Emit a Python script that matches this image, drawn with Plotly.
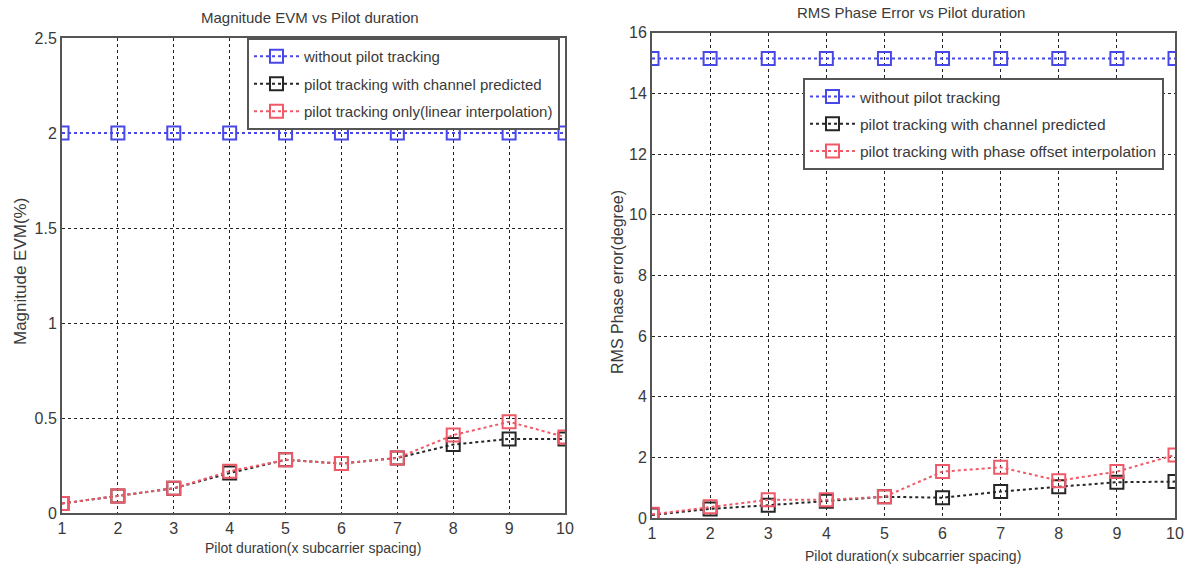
import plotly.graph_objects as go

x_vals = [1, 2, 3, 4, 5, 6, 7, 8, 9, 10]

# Left chart: Magnitude EVM (%)
evm_without = [2.0, 2.0, 2.0, 2.0, 2.0, 2.0, 2.0, 2.0, 2.0, 2.0]
evm_channel_pred = [0.05, 0.09, 0.13, 0.21, 0.28, 0.26, 0.29, 0.36, 0.39, 0.39]
evm_linear_interp = [0.05, 0.09, 0.13, 0.22, 0.28, 0.26, 0.29, 0.41, 0.48, 0.40]

# Right chart: RMS phase error (degree)
rms_without = [15.15, 15.15, 15.15, 15.15, 15.15, 15.15, 15.15, 15.15, 15.15, 15.15]
rms_channel_pred = [0.1, 0.3, 0.42, 0.55, 0.7, 0.67, 0.87, 1.03, 1.18, 1.2]
rms_phase_interp = [0.12, 0.37, 0.6, 0.6, 0.7, 1.53, 1.67, 1.23, 1.53, 2.08]

left_names = ["without pilot tracking", "pilot tracking with channel predicted",
              "pilot tracking only(linear interpolation)"]
right_names = ["without pilot tracking", "pilot tracking with channel predicted",
               "pilot tracking with phase offset interpolation"]
colors = ["#4848e8", "#262626", "#f05a68"]

FONT = "Liberation Sans, Arial, sans-serif"
TXT = "#3a3a3a"

fig = go.Figure()

for i, (ys, name, col) in enumerate(zip([evm_without, evm_channel_pred, evm_linear_interp], left_names, colors)):
    fig.add_trace(go.Scatter(
        x=x_vals, y=ys, name=name, mode="lines+markers",
        line=dict(color=col, dash="dot", width=2),
        marker=dict(symbol="square-open", size=13, color=col, line=dict(width=2)),
        xaxis="x", yaxis="y", legend="legend", legendgroup="L%d" % i))

for i, (ys, name, col) in enumerate(zip([rms_without, rms_channel_pred, rms_phase_interp], right_names, colors)):
    fig.add_trace(go.Scatter(
        x=x_vals, y=ys, name=name, mode="lines+markers",
        line=dict(color=col, dash="dot", width=2),
        marker=dict(symbol="square-open", size=13, color=col, line=dict(width=2)),
        xaxis="x2", yaxis="y2", legend="legend2", legendgroup="R%d" % i))

W, H = 1187, 571
axcommon = dict(showline=True, mirror=True, linecolor="#555555", linewidth=2,
                showgrid=True, gridcolor="#222222", griddash="dot", gridwidth=1,
                zeroline=False, ticks="", automargin=False,
                tickfont=dict(family=FONT, size=16, color=TXT))

fig.update_layout(
    width=W, height=H, margin=dict(l=0, r=0, t=0, b=0, autoexpand=False),
    paper_bgcolor="white", plot_bgcolor="white",
    font=dict(family=FONT, color=TXT),
    xaxis=dict(domain=[62 / W, 565 / W], range=[1, 10], tickvals=x_vals, anchor="y", **axcommon),
    yaxis=dict(domain=[1 - 513 / H, 1 - 38 / H], range=[0, 2.5], tickvals=[0, 0.5, 1, 1.5, 2, 2.5],
               ticktext=["0", "0.5", "1", "1.5", "2", "2.5"], anchor="x", **axcommon),
    xaxis2=dict(domain=[652 / W, 1175 / W], range=[1, 10], tickvals=x_vals, anchor="y2", **axcommon),
    yaxis2=dict(domain=[1 - 518 / H, 1 - 32.7 / H], range=[0, 16], tickvals=list(range(0, 17, 2)),
                anchor="x2", **axcommon),
    legend=dict(x=247 / W, y=1 - 38 / H, xanchor="left", yanchor="top",
                bgcolor="white", bordercolor="#555555", borderwidth=2,
                font=dict(family=FONT, size=15, color=TXT), itemwidth=45, tracegroupgap=5),
    legend2=dict(x=803 / W, y=1 - 78 / H, xanchor="left", yanchor="top",
                 bgcolor="white", bordercolor="#555555", borderwidth=2,
                 font=dict(family=FONT, size=15.5, color=TXT), itemwidth=45, tracegroupgap=4),
    showlegend=True,
)

ann = [
    dict(text="Magnitude EVM vs Pilot duration", x=310 / W, y=1 - 18 / H, size=15, angle=0),
    dict(text="RMS Phase Error vs Pilot duration", x=911 / W, y=1 - 13 / H, size=15, angle=0),
    dict(text="Pilot duration(x subcarrier spacing)", x=313 / W, y=1 - 548 / H, size=14, angle=0),
    dict(text="Pilot duration(x subcarrier spacing)", x=913 / W, y=1 - 556 / H, size=14, angle=0),
    dict(text="Magnitude EVM(%)", x=20 / W, y=1 - 272 / H, size=17, angle=-90),
    dict(text="RMS Phase error(degree)", x=617 / W, y=1 - 282 / H, size=16, angle=-90),
]
for a in ann:
    fig.add_annotation(text=a["text"], x=a["x"], y=a["y"], xref="paper", yref="paper",
                       showarrow=False, xanchor="center", yanchor="middle", textangle=a["angle"],
                       font=dict(family=FONT, size=a["size"], color=TXT))

fig.write_html("out.html")
